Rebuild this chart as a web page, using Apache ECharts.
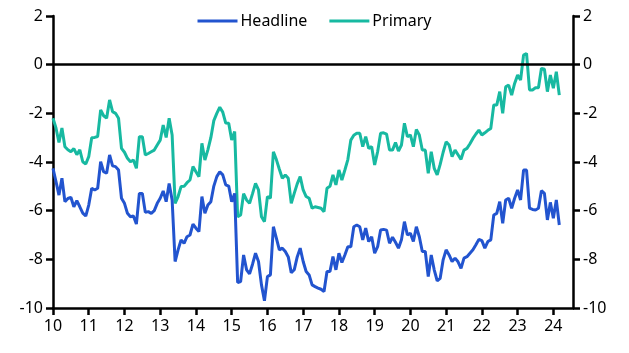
<!DOCTYPE html>
<html>
<head>
<meta charset="utf-8">
<script src="https://cdn.jsdelivr.net/npm/echarts@6/dist/echarts.min.js"></script>
<style>
  html, body { margin: 0; padding: 0; background: #fff; }
  #chart { width: 629px; height: 353px; }
</style>
</head>
<body>
<div id="chart"></div>
<script>
// monthly, Jan 2010 .. Mar 2024
var startYear = 2010;
var headline = [
  -4.26, -4.8, -5.36, -4.67, -5.63, -5.5, -5.45, -5.84, -5.59, -5.84, -6.1, -6.22,
  -5.77, -5.08, -5.15, -5.08, -3.99, -4.4, -4.46, -3.71, -4.16, -4.19, -4.33, -5.49,
  -5.7, -6.11, -6.25, -6.22, -6.55, -5.29, -5.29, -6.07, -6.04, -6.11, -6.0, -5.7,
  -5.49, -5.19, -5.63, -4.88, -5.56, -8.09, -7.61, -7.2, -7.34, -7.07, -7.0, -6.55,
  -6.72, -6.86, -5.42, -6.11, -5.77, -5.63, -4.99, -4.6, -4.4, -4.53, -4.94, -4.99,
  -5.63, -5.29, -8.95, -8.91, -7.82, -8.43, -8.6, -8.2, -7.75, -8.09, -9.05, -9.7,
  -8.71, -8.64, -6.66, -7.13, -7.61, -7.54, -7.68, -7.9, -8.55, -8.43, -7.9, -7.54,
  -8.09, -8.5, -8.64, -9.05, -9.12, -9.18, -9.23, -9.32, -8.5, -8.5, -7.89, -8.43,
  -7.75, -8.13, -7.82, -7.48, -7.48, -6.66, -6.59, -6.66, -7.2, -6.72, -7.27, -7.07,
  -7.75, -7.48, -6.79, -6.77, -6.8, -7.34, -7.09, -7.3, -7.54, -7.2, -6.45, -7.0,
  -6.93, -7.27, -6.66, -7.07, -7.68, -7.68, -8.71, -7.82, -8.43, -8.88, -8.78, -8.02,
  -7.61, -7.82, -8.09, -7.95, -8.1, -8.37, -7.95, -7.89, -7.75, -7.61, -7.4, -7.18,
  -7.23, -7.54, -7.27, -7.2, -6.18, -6.11, -5.63, -6.52, -5.56, -5.49, -5.9, -5.49,
  -5.15, -5.56, -4.33, -4.33, -5.9, -5.95, -5.97, -5.9, -5.18, -5.29, -6.38, -5.66,
  -6.31, -5.56, -6.59
];
var primary = [
  -2.2, -2.6, -3.2, -2.6, -3.37, -3.5, -3.58, -3.45, -3.7, -3.5, -3.99, -4.08,
  -3.78, -3.0, -2.99, -2.95, -1.86, -2.1, -2.2, -1.45, -1.93, -2.0, -2.2, -3.44,
  -3.6, -3.85, -3.99, -3.92, -4.26, -2.96, -2.96, -3.71, -3.65, -3.58, -3.51, -3.3,
  -3.1, -2.48, -2.99, -2.2, -2.89, -5.7, -5.42, -5.01, -5.0, -4.85, -4.74, -4.19,
  -4.4, -4.6, -3.23, -3.92, -3.5, -3.0, -2.3, -2.0, -1.75, -1.95, -2.4, -2.41,
  -3.1, -2.75, -6.25, -6.18, -5.3, -5.56, -5.7, -5.3, -4.88, -5.15, -6.25, -6.45,
  -5.42, -5.49, -3.58, -3.9, -4.3, -4.67, -4.53, -4.67, -5.7, -5.29, -4.9, -4.6,
  -5.15, -5.42, -5.49, -5.9, -5.84, -5.87, -5.9, -6.04, -5.08, -5.0, -4.53, -4.94,
  -4.33, -4.74, -4.33, -3.9, -3.1, -2.9, -2.82, -2.82, -3.37, -2.96, -3.44, -3.37,
  -4.12, -3.58, -2.82, -2.8, -2.85, -3.51, -3.51, -3.2, -3.55, -3.3, -2.41, -2.96,
  -2.89, -3.37, -2.66, -2.89, -3.51, -3.51, -4.46, -3.58, -4.26, -4.53, -4.1, -3.6,
  -3.17, -3.3, -3.78, -3.51, -3.7, -3.89, -3.51, -3.44, -3.25, -3.03, -2.85, -2.69,
  -2.89, -2.8, -2.7, -2.62, -1.66, -1.66, -1.11, -2.0, -0.91, -0.84, -1.25, -0.77,
  -0.43, -0.63, 0.39, 0.46, -1.04, -1.04, -0.95, -0.95, -0.15, -0.19, -1.11, -0.43,
  -0.97, -0.29, -1.25
];
var yearTicks = [2010, 2011, 2012, 2013, 2014, 2015, 2016, 2017, 2018, 2019, 2020, 2021, 2022, 2023, 2024];

function toPairs(arr) {
  return arr.map(function (v, i) { return [startYear + i / 12, v]; });
}

var chart = echarts.init(document.getElementById('chart'));
var font = 'Noto Sans';
var axisY = {
  type: 'value',
  min: -10,
  max: 2,
  interval: 2,
  axisLine: { show: true, lineStyle: { color: '#000', width: 2.5 } },
  axisTick: { show: true, length: 7, lineStyle: { color: '#000', width: 2.5 } },
  axisLabel: { color: '#000', fontSize: 16, fontFamily: font, margin: 10 },
  splitLine: { show: false }
};

chart.setOption({
  animation: false,
  textStyle: { fontFamily: font },
  grid: { left: 53, right: 56, top: 16, bottom: 45 },
  legend: {
    top: 8,
    left: 'center',
    icon: 'path://M0,0 H40 V3 H0 Z',
    itemWidth: 40,
    itemHeight: 3,
    itemGap: 22,
    textStyle: { fontSize: 16, color: '#000', fontFamily: font, padding: [0, 0, 0, -2] },
    data: ['Headline', 'Primary']
  },
  xAxis: {
    type: 'value',
    min: 2010,
    max: 2024.55,
    interval: 1,
    axisLine: { onZero: false, lineStyle: { color: '#000', width: 2.5 } },
    axisTick: { length: 7, lineStyle: { color: '#000', width: 2.5 }, customValues: yearTicks },
    axisLabel: {
      color: '#000', fontSize: 16, fontFamily: font, margin: 10,
      customValues: yearTicks,
      formatter: function (v) { return String(Math.round(v)).slice(2); }
    },
    splitLine: { show: false }
  },
  yAxis: [
    Object.assign({ position: 'left' }, axisY),
    Object.assign({ position: 'right' }, axisY)
  ],
  series: [
    {
      name: 'Headline',
      type: 'line',
      symbol: 'none',
      data: toPairs(headline),
      lineStyle: { color: '#2254cf', width: 3 },
      itemStyle: { color: '#2254cf' },
      z: 3
    },
    {
      name: 'Primary',
      type: 'line',
      symbol: 'none',
      data: toPairs(primary),
      lineStyle: { color: '#17b9a1', width: 3 },
      itemStyle: { color: '#17b9a1' },
      z: 2,
      markLine: {
        silent: true,
        symbol: 'none',
        label: { show: false },
        lineStyle: { color: '#000', width: 2.5, type: 'solid' },
        data: [{ yAxis: 0 }]
      }
    }
  ]
});
</script>
</body>
</html>
